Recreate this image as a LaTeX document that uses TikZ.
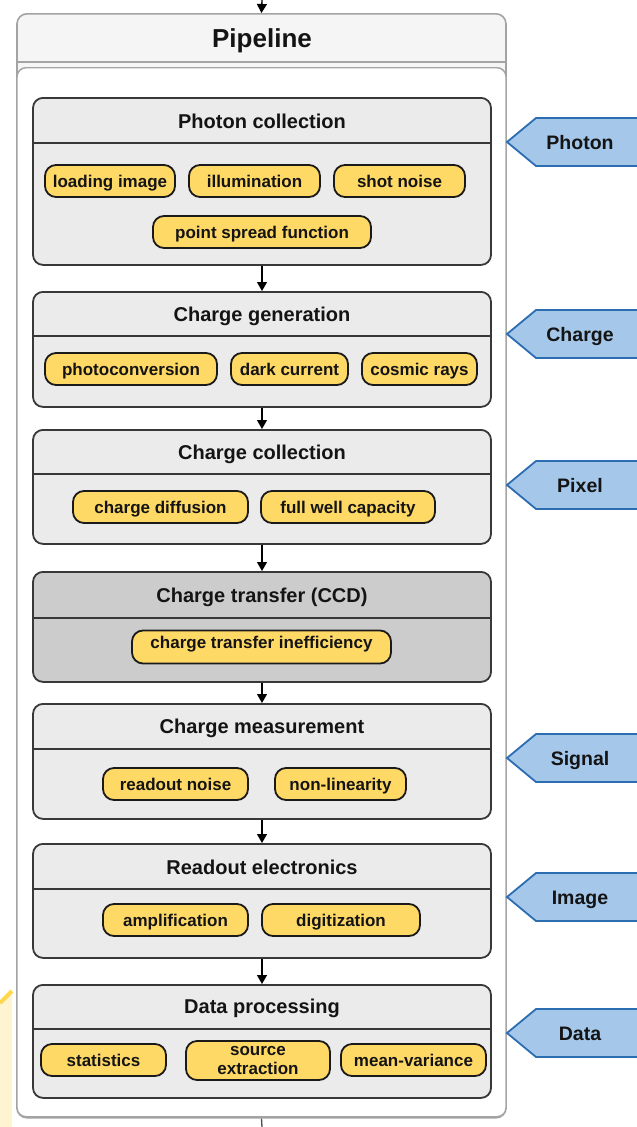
\documentclass[tikz,border=0pt]{standalone}
\usepackage{fontspec}
\setmainfont{Liberation Sans}
\usetikzlibrary{arrows.meta}

\definecolor{pipeedge}{HTML}{A3A3A3}
\definecolor{pipehead}{HTML}{F5F5F5}
\definecolor{stagefill}{HTML}{EBEBEB}
\definecolor{ccdfill}{HTML}{CCCCCC}
\definecolor{stageedge}{HTML}{383838}
\definecolor{chipfill}{HTML}{FFD966}
\definecolor{chipedge}{HTML}{1A1A1A}
\definecolor{tagfill}{HTML}{A4C7EA}
\definecolor{tagedge}{HTML}{2C6DB2}
\definecolor{fragfill}{HTML}{FFF4D2}
\definecolor{fragedge}{HTML}{FFD84D}

\tikzset{
  arr/.style={-{Triangle[length=9pt,width=10pt]}, line width=1.3pt, draw=black},
  plain/.style={line width=1.3pt, draw=black!70},
  stagebox/.style={draw=stageedge, fill=stagefill, line width=1.8pt,
    rounded corners=10pt, minimum width=458pt, anchor=north, inner sep=0pt},
  ccdbox/.style={stagebox, fill=ccdfill},
  divider/.style={draw=stageedge, line width=1.6pt},
  stitle/.style={font=\fontsize{20}{24}\selectfont\bfseries, text=black!92,
    text height=14.5pt, text depth=4.2pt, inner sep=0pt, yshift=-2pt},
  chipbase/.style={draw=chipedge, fill=chipfill, line width=1.8pt,
    rounded corners=11pt, minimum height=32pt, inner sep=0pt,
    align=center, font=\fontsize{17}{19}\selectfont\bfseries, text=black!92},
  chip/.style={chipbase, text height=14.5pt, text depth=1.8pt},
  chiptext/.style={font=\fontsize{17}{19}\selectfont\bfseries, text=black!92,
    text height=14.5pt, text depth=1.8pt, inner sep=0pt},
  tagshape/.style={draw=tagedge, fill=tagfill, line width=1.8pt, line join=miter},
  tagtext/.style={font=\fontsize{19.5}{22}\selectfont\bfseries, text=black!92,
    text height=14pt, text depth=4pt, inner sep=0pt, yshift=-2pt},
}

\begin{document}
\begin{tikzpicture}[x=1pt,y=-1pt]
\useasboundingbox (0,0) rectangle (637,1127);
\clip (0,0) rectangle (637,1127);

% cut-off highlighted fragment at the lower left
\fill[fragfill] (0,1003) -- (12,991) -- (12,1127) -- (0,1127) -- cycle;
\draw[fragedge, line width=4pt] (0,1003) -- (12,991);

% pipeline container: header band and white body
\node[draw=pipeedge, fill=pipehead, line width=1.6pt, rounded corners=10pt,
      minimum width=489pt, minimum height=1104pt, anchor=north, inner sep=0pt]
      (pipe) at (261.5,13) {};
\draw[pipeedge, line width=1.4pt] (pipe.west |- 0,62) -- (pipe.east |- 0,62);
\node[draw=pipeedge, fill=white, line width=1.4pt, rounded corners=9pt,
      minimum width=489pt, minimum height=1049pt, anchor=north, inner sep=0pt]
      (body) at (261.5,67) {};
\node[font=\fontsize{26}{30}\selectfont\bfseries, text=black!92,
      text height=19pt, text depth=5.5pt, inner sep=0pt] (ptitle) at (262,40.5) {Pipeline};

\coordinate (inlet) at (262,0);
\coordinate (outlet) at (262,1127);
\draw[arr] (inlet) -- (pipe.north);
\draw[plain] (pipe.south) -- (outlet);

% stages
\node[stagebox, minimum height=167pt] (s1) at (262,97) {};
\node[stagebox, minimum height=115pt] (s2) at (262,291) {};
\node[stagebox, minimum height=114pt] (s3) at (262,429) {};
\node[ccdbox,   minimum height=110pt] (s4) at (262,571) {};
\node[stagebox, minimum height=115pt] (s5) at (262,703) {};
\node[stagebox, minimum height=114pt] (s6) at (262,843) {};
\node[stagebox, minimum height=113pt] (s7) at (262,984) {};

\draw[divider] (s1.west |- 0,143) -- (s1.east |- 0,143);
\draw[divider] (s2.west |- 0,336) -- (s2.east |- 0,336);
\draw[divider] (s3.west |- 0,474) -- (s3.east |- 0,474);
\draw[divider] (s4.west |- 0,618) -- (s4.east |- 0,618);
\draw[divider] (s5.west |- 0,749) -- (s5.east |- 0,749);
\draw[divider] (s6.west |- 0,889) -- (s6.east |- 0,889);
\draw[divider] (s7.west |- 0,1029) -- (s7.east |- 0,1029);

\node[stitle] (t1) at (262,121) {Photon collection};
\node[stitle] (t2) at (262,314) {Charge generation};
\node[stitle] (t3) at (262,452) {Charge collection};
\node[stitle] (t4) at (262,595) {Charge transfer (CCD)};
\node[stitle] (t5) at (262,726) {Charge measurement};
\node[stitle] (t6) at (262,867) {Readout electronics};
\node[stitle] (t7) at (262,1006) {Data processing};

\draw[arr] (s1.south) -- (s2.north);
\draw[arr] (s2.south) -- (s3.north);
\draw[arr] (s3.south) -- (s4.north);
\draw[arr] (s4.south) -- (s5.north);
\draw[arr] (s5.south) -- (s6.north);
\draw[arr] (s6.south) -- (s7.north);

% effect chips
\node[chip, minimum width=130pt] (c11) at (110,181) {loading image};
\node[chip, minimum width=131pt] (c12) at (254.5,181) {illumination};
\node[chip, minimum width=131pt] (c13) at (399.5,181) {shot noise};
\node[chip, minimum width=218pt] (c14) at (262,232) {point spread function};

\node[chip, minimum width=172pt] (c21) at (131,369) {photoconversion};
\node[chip, minimum width=117pt] (c22) at (289.5,369) {dark current};
\node[chip, minimum width=115pt] (c23) at (419.5,369) {cosmic rays};

\node[chip, minimum width=175pt] (c31) at (160.5,507) {charge diffusion};
\node[chip, minimum width=174pt] (c32) at (348,507) {full well capacity};

\node[chip, minimum width=259pt, minimum height=33pt] (c41) at (261.5,647) {};
\node[chiptext] (c41t) at (261.5,642.5) {charge transfer inefficiency};

\node[chip, minimum width=145pt] (c51) at (175.5,784) {readout noise};
\node[chip, minimum width=131pt] (c52) at (340.5,784) {non-linearity};

\node[chip, minimum width=145pt] (c61) at (175.5,920) {amplification};
\node[chip, minimum width=158pt] (c62) at (341,920) {digitization};

\node[chip, minimum width=125pt] (c71) at (103.5,1060) {statistics};
\node[chipbase, minimum width=144pt, minimum height=39pt] (c72) at (258,1060.5) {source\\extraction};
\node[chip, minimum width=145pt] (c73) at (413.5,1060) {mean-variance};

% data-product tags on the right
\foreach \yy/\lbl in {142/Photon, 334/Charge, 485/Pixel, 758/Signal, 897/Image, 1033/Data}{
  \draw[tagshape] (507,\yy) -- (536,\yy-24) -- (660,\yy-24) -- (660,\yy+24)
                  -- (536,\yy+24) -- cycle;
  \node[tagtext] (tag-\lbl) at (580,\yy) {\lbl};
}
\end{tikzpicture}
\end{document}
